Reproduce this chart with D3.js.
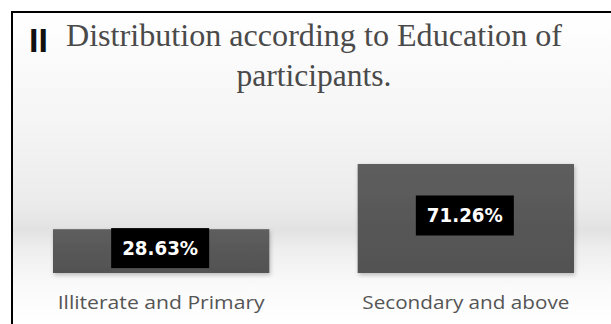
<!DOCTYPE html>
<html>
<head>
<meta charset="utf-8">
<script src="https://cdn.jsdelivr.net/npm/d3@7"></script>
<style>
  html, body { margin: 0; padding: 0; background: #fff; }
  svg { display: block; }
</style>
</head>
<body>
<svg id="chart" width="611" height="324"></svg>
<script>
// Education level of participants (share, %)
const categories = ["Illiterate and Primary", "Secondary and above"];
const values = [28.63, 71.26];
const valueLabels = ["28.63%", "71.26%"];
const titleLines = ["Distribution according to Education of", "participants."];

const W = 611, H = 324;
const svg = d3.select("#chart");
const defs = svg.append("defs");

// soft backdrop with a faint floor band behind the bars
const bg = defs.append("linearGradient")
  .attr("id", "bg").attr("x1", 0).attr("y1", 0).attr("x2", 0).attr("y2", 1);
[[0, "#ffffff"], [0.35, "#f5f5f5"], [0.62, "#ebebeb"], [0.7, "#e2e2e2"],
 [0.76, "#eeeeee"], [0.88, "#fafafa"], [1, "#ffffff"]]
  .forEach(([o, c]) => bg.append("stop").attr("offset", o).attr("stop-color", c));

const barGrad = defs.append("linearGradient")
  .attr("id", "bar").attr("x1", 0).attr("y1", 0).attr("x2", 0).attr("y2", 1);
[[0, "#5e5e5e"], [1, "#525252"]]
  .forEach(([o, c]) => barGrad.append("stop").attr("offset", o).attr("stop-color", c));

const shadow = defs.append("filter").attr("id", "shadow")
  .attr("x", "-10%").attr("y", "-10%").attr("width", "120%").attr("height", "130%");
shadow.append("feGaussianBlur").attr("in", "SourceAlpha").attr("stdDeviation", 2);
shadow.append("feOffset").attr("dx", 1).attr("dy", 2).attr("result", "b");
shadow.append("feComponentTransfer").append("feFuncA").attr("type", "linear").attr("slope", 0.25);
const merge = shadow.append("feMerge");
merge.append("feMergeNode");
merge.append("feMergeNode").attr("in", "SourceGraphic");

// chart area + frame
svg.append("rect").attr("x", 12).attr("y", 12).attr("width", W - 12).attr("height", H - 12)
  .attr("fill", "url(#bg)");
svg.append("path")
  .attr("d", `M12,${H} V12 H${W}`)
  .attr("fill", "none").attr("stroke", "#000").attr("stroke-width", 2);

// title
const cx = 314;
svg.append("text").attr("x", 29).attr("y", 52)
  .attr("font-family", "Liberation Sans, Arial, sans-serif")
  .attr("font-weight", "bold").attr("font-size", 34).attr("fill", "#111")
  .text("II");
svg.selectAll("text.title").data(titleLines).join("text")
  .attr("class", "title")
  .attr("x", cx).attr("y", (d, i) => 46 + i * 40)
  .attr("text-anchor", "middle")
  .attr("font-family", "Liberation Serif, Times New Roman, serif")
  .attr("font-size", 32).attr("fill", "#4a4a4a")
  .attr("textLength", (d, i) => i === 0 ? 496 : 155)
  .attr("lengthAdjust", "spacingAndGlyphs")
  .text(d => d);

// scales
const x = d3.scaleBand().domain(categories).range([53, 574]).paddingInner(0.29);
const y = d3.scaleLinear().domain([0, 80]).range([273, 150.6]);

const data = categories.map((c, i) => ({ c, v: values[i], label: valueLabels[i] }));

svg.append("g").selectAll("rect").data(data).join("rect")
  .attr("x", d => x(d.c)).attr("width", x.bandwidth())
  .attr("y", d => y(d.v)).attr("height", d => y(0) - y(d.v))
  .attr("fill", "url(#bar)").attr("filter", "url(#shadow)");

// value labels on black boxes
const lbl = svg.append("g").selectAll("g").data(data).join("g")
  .attr("transform", d => `translate(${x(d.c) + x.bandwidth() / 2 - 1},${(y(d.v) + y(0)) / 2 - 3})`);
lbl.append("rect").attr("x", -49).attr("y", -20).attr("width", 98).attr("height", 40)
  .attr("fill", "#000");
lbl.append("text").attr("y", 7).attr("text-anchor", "middle")
  .attr("font-family", "DejaVu Sans, sans-serif").attr("font-weight", "bold")
  .attr("font-size", 19).attr("fill", "#fff")
  .attr("textLength", 76).attr("lengthAdjust", "spacingAndGlyphs")
  .text(d => d.label);

// category axis labels
svg.append("g").selectAll("text").data(categories).join("text")
  .attr("x", d => x(d) + x.bandwidth() / 2).attr("y", 309)
  .attr("text-anchor", "middle")
  .attr("font-family", "Open Sans, sans-serif").attr("font-size", 19)
  .attr("fill", "#555")
  .attr("textLength", 207).attr("lengthAdjust", "spacingAndGlyphs")
  .text(d => d);
</script>
</body>
</html>
